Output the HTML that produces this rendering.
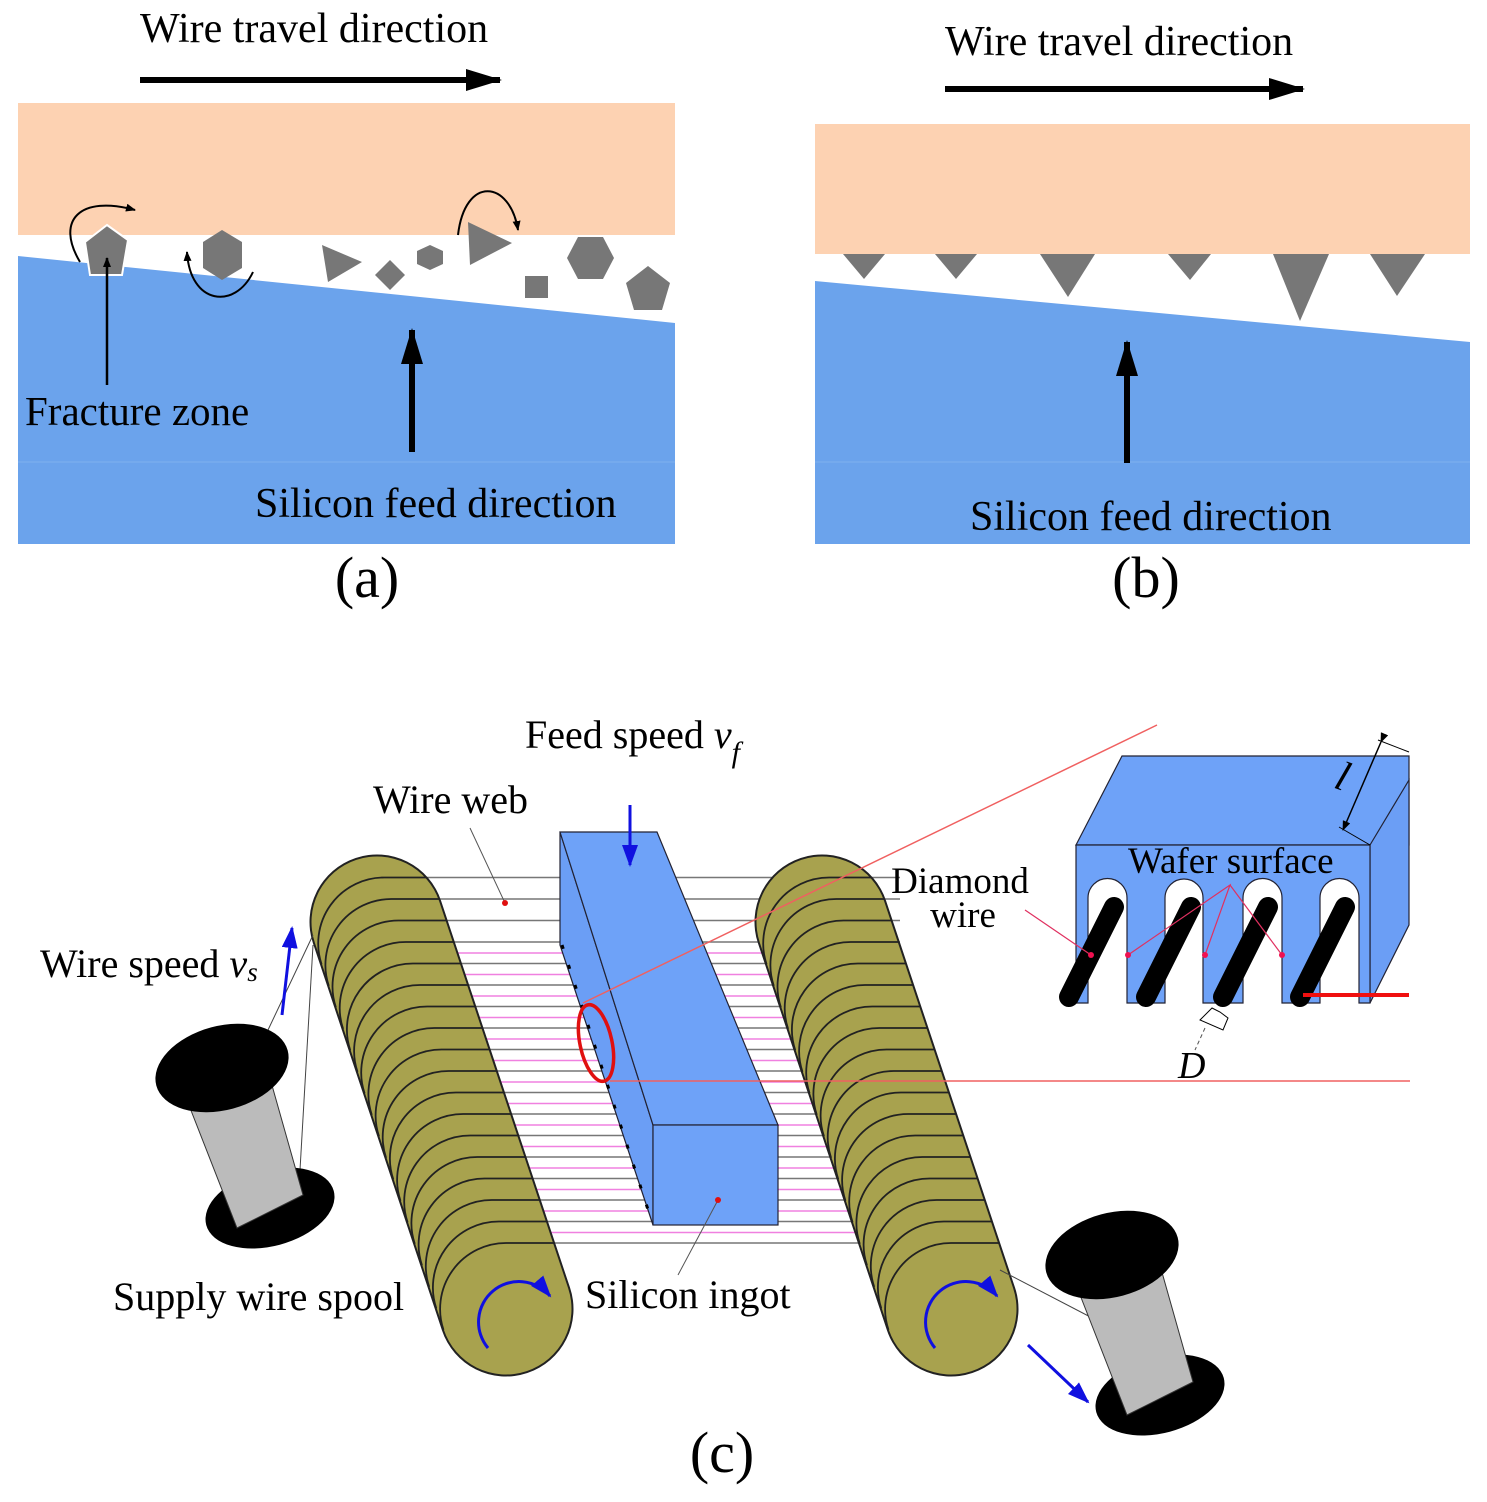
<!DOCTYPE html>
<html><head><meta charset="utf-8"><style>
html,body{margin:0;padding:0;background:#fff}
svg{display:block}
text{font-family:"Liberation Serif",serif;fill:#000}
</style></head><body>
<svg width="1487" height="1502" viewBox="0 0 1487 1502" xmlns="http://www.w3.org/2000/svg">
<defs>
<marker id="big" markerWidth="36" markerHeight="22" refX="34" refY="11" orient="auto" markerUnits="userSpaceOnUse"><path d="M0,0 L36,11 L0,22z" fill="#000"/></marker>
<marker id="bl" markerWidth="22" markerHeight="16" refX="20" refY="8" orient="auto" markerUnits="userSpaceOnUse"><path d="M0,0 L22,8 L0,16z" fill="#1010e0"/></marker>
<marker id="sm" markerWidth="10" markerHeight="8" refX="9" refY="4" orient="auto" markerUnits="userSpaceOnUse"><path d="M0,0 L10,4 L0,8z" fill="#000"/></marker>
<clipPath id="cl"><circle cx="377" cy="922" r="66"/><circle cx="506" cy="1309" r="66"/><polygon points="439.6,901.1 568.6,1288.1 443.4,1329.9 314.4,942.9"/></clipPath>
<clipPath id="cr"><circle cx="822" cy="922" r="66"/><circle cx="951" cy="1309" r="66"/><polygon points="884.6,901.1 1013.6,1288.1 888.4,1329.9 759.4,942.9"/></clipPath>
</defs>

<!-- Panel (a) -->
<text x="140" y="42" font-size="42">Wire travel direction</text>
<line x1="140" y1="80" x2="500" y2="80" stroke="#000" stroke-width="6" marker-end="url(#big)"/>
<rect x="18" y="103" width="657" height="132" fill="#fdd2b2"/>
<polygon points="18,256 675,323 675,544 18,544" fill="#6ba3ec"/>
<line x1="18" y1="462" x2="675" y2="462" stroke="#7fb0ee" stroke-width="1"/>
<g fill="#777">
<polygon points="107,225 128,240 122,275 90,275 85,242" stroke="#fff" stroke-width="2"/>
<polygon points="222,230 242,242 242,268 222,280 203,268 203,242"/>
<polygon points="322,245 362,262 328,282"/>
<polygon points="390,260 405,275 390,290 375,275"/>
<polygon points="430,245 443,251 443,264 430,270 417,264 417,251"/>
<polygon points="468,222 512,243 470,265"/>
<rect x="525" y="276" width="23" height="22"/>
<polygon points="578,237 603,237 614,258 603,279 578,279 567,258"/>
<polygon points="648,266 670,283 662,310 634,310 626,283"/>
</g>
<path d="M80,262 C55,220 80,195 135,210" fill="none" stroke="#000" stroke-width="2" marker-end="url(#sm)"/>
<path d="M253,272 C235,310 190,305 187,252" fill="none" stroke="#000" stroke-width="2" marker-end="url(#sm)"/>
<path d="M458,235 C465,175 510,180 518,230" fill="none" stroke="#000" stroke-width="2" marker-end="url(#sm)"/>
<line x1="107" y1="385" x2="107" y2="258" stroke="#000" stroke-width="2.5" marker-end="url(#sm)"/>
<text x="25" y="425" font-size="41">Fracture zone</text>
<line x1="412" y1="452" x2="412" y2="330" stroke="#000" stroke-width="6" marker-end="url(#big)"/>
<text x="255" y="517" font-size="42">Silicon feed direction</text>
<text x="367" y="597" font-size="58" text-anchor="middle">(a)</text>

<!-- Panel (b) -->
<text x="945" y="55" font-size="42">Wire travel direction</text>
<line x1="945" y1="89" x2="1303" y2="89" stroke="#000" stroke-width="6" marker-end="url(#big)"/>
<rect x="815" y="124" width="655" height="130" fill="#fdd2b2"/>
<polygon points="815,281 1470,342 1470,544 815,544" fill="#6ba3ec"/>
<line x1="815" y1="462" x2="1470" y2="462" stroke="#7fb0ee" stroke-width="1"/>
<g fill="#777">
<polygon points="843,254 885,254 864,279"/>
<polygon points="935,254 977,254 956,279"/>
<polygon points="1040,254 1095,254 1068,297"/>
<polygon points="1168,254 1211,254 1190,280"/>
<polygon points="1273,254 1329,254 1300,321"/>
<polygon points="1370,254 1425,254 1397,296"/>
</g>
<line x1="1127" y1="463" x2="1127" y2="342" stroke="#000" stroke-width="6" marker-end="url(#big)"/>
<text x="970" y="530" font-size="42">Silicon feed direction</text>
<text x="1146" y="597" font-size="58" text-anchor="middle">(b)</text>

<!-- Panel (c) -->
<!-- middle wires -->
<g stroke-width="1.6">
<g stroke="#777" id="gw">
<line x1="420" y1="877.5" x2="900" y2="877.5"/><line x1="420" y1="899" x2="900" y2="899"/><line x1="420" y1="920.5" x2="900" y2="920.5"/><line x1="420" y1="942" x2="900" y2="942"/><line x1="420" y1="963.5" x2="900" y2="963.5"/><line x1="420" y1="985" x2="900" y2="985"/><line x1="420" y1="1006.5" x2="900" y2="1006.5"/><line x1="420" y1="1028" x2="900" y2="1028"/><line x1="420" y1="1049.5" x2="900" y2="1049.5"/><line x1="420" y1="1071" x2="900" y2="1071"/><line x1="420" y1="1092.5" x2="900" y2="1092.5"/><line x1="420" y1="1114" x2="900" y2="1114"/><line x1="420" y1="1135.5" x2="900" y2="1135.5"/><line x1="420" y1="1157" x2="900" y2="1157"/><line x1="420" y1="1178.5" x2="900" y2="1178.5"/><line x1="420" y1="1200" x2="900" y2="1200"/><line x1="420" y1="1221.5" x2="900" y2="1221.5"/><line x1="420" y1="1243" x2="900" y2="1243"/>
</g>
<g stroke="#f080e0">
<line x1="440" y1="953" x2="900" y2="953"/><line x1="440" y1="974.5" x2="900" y2="974.5"/><line x1="440" y1="996" x2="900" y2="996"/><line x1="440" y1="1017.5" x2="900" y2="1017.5"/><line x1="440" y1="1039" x2="900" y2="1039"/><line x1="440" y1="1060.5" x2="900" y2="1060.5"/><line x1="440" y1="1082" x2="900" y2="1082"/><line x1="440" y1="1103.5" x2="900" y2="1103.5"/><line x1="440" y1="1125" x2="900" y2="1125"/><line x1="440" y1="1146.5" x2="900" y2="1146.5"/><line x1="440" y1="1168" x2="900" y2="1168"/><line x1="440" y1="1189.5" x2="900" y2="1189.5"/><line x1="440" y1="1211" x2="900" y2="1211"/><line x1="440" y1="1232.5" x2="900" y2="1232.5"/>
</g>
</g>
<!-- left roller -->
<line x1="377" y1="922" x2="506" y2="1309" stroke="#222" stroke-width="135" stroke-linecap="round"/>
<line x1="377" y1="922" x2="506" y2="1309" stroke="#a8a24e" stroke-width="131" stroke-linecap="round"/>
<g clip-path="url(#cl)" fill="none" stroke="#222" stroke-width="1.8">
<path d="M321.6,964.4 A66,66 0 0 1 384.2,877.5 H600"/>
<path d="M328.8,985.9 A66,66 0 0 1 391.3,899 H600"/>
<path d="M335.9,1007.4 A66,66 0 0 1 398.5,920.5 H600"/>
<path d="M343.1,1028.9 A66,66 0 0 1 405.7,942 H600"/>
<path d="M350.3,1050.4 A66,66 0 0 1 412.9,963.5 H600"/>
<path d="M357.5,1071.9 A66,66 0 0 1 420,985 H600"/>
<path d="M364.6,1093.4 A66,66 0 0 1 427.2,1006.5 H600"/>
<path d="M371.8,1114.9 A66,66 0 0 1 434.4,1028 H600"/>
<path d="M379,1136.4 A66,66 0 0 1 441.5,1049.5 H600"/>
<path d="M386.1,1157.9 A66,66 0 0 1 448.7,1071 H600"/>
<path d="M393.3,1179.4 A66,66 0 0 1 455.9,1092.5 H600"/>
<path d="M400.5,1200.9 A66,66 0 0 1 463.1,1114 H600"/>
<path d="M407.6,1222.4 A66,66 0 0 1 470.2,1135.5 H600"/>
<path d="M414.8,1243.9 A66,66 0 0 1 477.4,1157 H600"/>
<path d="M422,1265.4 A66,66 0 0 1 484.6,1178.5 H600"/>
<path d="M429.2,1286.9 A66,66 0 0 1 491.7,1200 H600"/>
<path d="M436.3,1308.4 A66,66 0 0 1 498.9,1221.5 H600"/>
<path d="M443.5,1329.9 A66,66 0 0 1 506,1243 H600"/>
</g>
<!-- right roller -->
<line x1="822" y1="922" x2="951" y2="1309" stroke="#222" stroke-width="135" stroke-linecap="round"/>
<line x1="822" y1="922" x2="951" y2="1309" stroke="#a8a24e" stroke-width="131" stroke-linecap="round"/>
<g clip-path="url(#cr)" fill="none" stroke="#222" stroke-width="1.8">
<path d="M766.6,964.4 A66,66 0 0 1 829.2,877.5 H1050"/>
<path d="M773.8,985.9 A66,66 0 0 1 836.3,899 H1050"/>
<path d="M780.9,1007.4 A66,66 0 0 1 843.5,920.5 H1050"/>
<path d="M788.1,1028.9 A66,66 0 0 1 850.7,942 H1050"/>
<path d="M795.3,1050.4 A66,66 0 0 1 857.9,963.5 H1050"/>
<path d="M802.5,1071.9 A66,66 0 0 1 865,985 H1050"/>
<path d="M809.6,1093.4 A66,66 0 0 1 872.2,1006.5 H1050"/>
<path d="M816.8,1114.9 A66,66 0 0 1 879.4,1028 H1050"/>
<path d="M824,1136.4 A66,66 0 0 1 886.5,1049.5 H1050"/>
<path d="M831.1,1157.9 A66,66 0 0 1 893.7,1071 H1050"/>
<path d="M838.3,1179.4 A66,66 0 0 1 900.9,1092.5 H1050"/>
<path d="M845.5,1200.9 A66,66 0 0 1 908.1,1114 H1050"/>
<path d="M852.6,1222.4 A66,66 0 0 1 915.2,1135.5 H1050"/>
<path d="M859.8,1243.9 A66,66 0 0 1 922.4,1157 H1050"/>
<path d="M867,1265.4 A66,66 0 0 1 929.6,1178.5 H1050"/>
<path d="M874.2,1286.9 A66,66 0 0 1 936.7,1200 H1050"/>
<path d="M881.3,1308.4 A66,66 0 0 1 943.9,1221.5 H1050"/>
<path d="M888.5,1329.9 A66,66 0 0 1 951,1243 H1050"/>
</g>
<!-- rotation arrows -->
<path d="M488,1348 A38,38 0 1 1 550,1296" fill="none" stroke="#1010e0" stroke-width="3" marker-end="url(#bl)"/>
<path d="M935,1348 A38,38 0 1 1 997,1296" fill="none" stroke="#1010e0" stroke-width="3" marker-end="url(#bl)"/>
<!-- ingot -->
<polygon points="560,832 560,945 653,1225 653,1125" fill="#6b9ef5" stroke="#223" stroke-width="1.2"/>
<polygon points="560,832 657,832 778,1125 653,1125" fill="#6ea2f8" stroke="#223" stroke-width="1.2"/>
<rect x="653" y="1125" width="125" height="100" fill="#6ea2f8" stroke="#223" stroke-width="1.2"/>
<line x1="562" y1="945" x2="652" y2="1222" stroke="#000" stroke-width="3" stroke-dasharray="4,17"/>
<line x1="630" y1="805" x2="630" y2="865" stroke="#1010e0" stroke-width="3" marker-end="url(#bl)"/>
<!-- red zoom lines -->
<line x1="583" y1="1003" x2="1157" y2="725" stroke="#f06060" stroke-width="1.5"/>
<line x1="610" y1="1081" x2="1410" y2="1081" stroke="#f06060" stroke-width="1.5"/>
<ellipse cx="596" cy="1043" rx="16" ry="39" transform="rotate(-12 596 1043)" fill="none" stroke="#e01010" stroke-width="3.5"/>
<!-- leaders -->
<line x1="470" y1="828" x2="505" y2="903" stroke="#555" stroke-width="1"/><circle cx="505" cy="903" r="3" fill="#e01010"/>
<line x1="678" y1="1275" x2="718" y2="1200" stroke="#555" stroke-width="1"/><circle cx="718" cy="1200" r="3" fill="#e01010"/>
<!-- spools -->
<line x1="313" y1="935" x2="268" y2="1030" stroke="#444" stroke-width="1"/>
<line x1="313" y1="945" x2="300" y2="1170" stroke="#444" stroke-width="1"/>
<ellipse cx="270" cy="1208" rx="66" ry="38" transform="rotate(-15 270 1208)" fill="#000"/>
<polygon points="183,1090 262,1050 303,1195 237,1228" fill="#bbb" stroke="#333" stroke-width="1"/>
<ellipse cx="222" cy="1068" rx="68" ry="42" transform="rotate(-15 222 1068)" fill="#000"/>
<line x1="282" y1="1015" x2="292" y2="928" stroke="#1010e0" stroke-width="3" marker-end="url(#bl)"/>
<line x1="1000" y1="1270" x2="1100" y2="1322" stroke="#444" stroke-width="1"/>
<ellipse cx="1160" cy="1395" rx="66" ry="38" transform="rotate(-15 1160 1395)" fill="#000"/>
<polygon points="1073,1277 1152,1237 1193,1382 1127,1415" fill="#bbb" stroke="#333" stroke-width="1"/>
<ellipse cx="1112" cy="1255" rx="68" ry="42" transform="rotate(-15 1112 1255)" fill="#000"/>
<line x1="1028" y1="1345" x2="1088" y2="1402" stroke="#1010e0" stroke-width="3" marker-end="url(#bl)"/>
<!-- inset -->
<polygon points="1076,845 1122,756 1409,756 1409,845" fill="#6ea2f8" stroke="#223" stroke-width="1.2"/>
<polygon points="1370,845 1409,780 1409,925 1370,1003" fill="#6b9ef5" stroke="#223" stroke-width="1.2"/>
<path d="M1076,845 H1370 V1003 H1359 V898 A19,19 0 0 0 1320,898 V1003 H1282 V898 A19,19 0 0 0 1243,898 V1003 H1203 V898 A19,19 0 0 0 1165,898 V1003 H1127 V898 A19,19 0 0 0 1088,898 V1003 H1076 Z" fill="#6ea2f8" stroke="#223" stroke-width="1.2"/>
<g stroke="#000" stroke-width="20" stroke-linecap="round">
<line x1="1069" y1="997" x2="1114" y2="907"/>
<line x1="1146" y1="997" x2="1191" y2="907"/>
<line x1="1223" y1="997" x2="1268" y2="907"/>
<line x1="1300" y1="997" x2="1345" y2="907"/>
</g>
<line x1="1303" y1="995" x2="1409" y2="995" stroke="#f01010" stroke-width="4"/>
<g stroke="#e03060" stroke-width="1.2" fill="none">
<polyline points="1025,910 1091,955"/>
<polyline points="1128,955 1230,885 1205,955"/>
<polyline points="1230,885 1282,955"/>
</g>
<g fill="#f01050"><circle cx="1091" cy="955" r="3"/><circle cx="1128" cy="955" r="3"/><circle cx="1205" cy="955" r="3"/><circle cx="1282" cy="955" r="3"/></g>
<line x1="1381" y1="742" x2="1343" y2="830" stroke="#000" stroke-width="1.5" marker-start="url(#sm)" marker-end="url(#sm)"/>
<polyline points="1378,740 1409,752" stroke="#000" fill="none" stroke-width="1"/>
<polyline points="1339,827 1370,845" stroke="#000" fill="none" stroke-width="1"/>
<polygon points="1212,1008 1220,1012 1228,1018 1223,1030 1200,1020" fill="#fff" stroke="#000" stroke-width="1"/>
<line x1="1205" y1="1028" x2="1195" y2="1050" stroke="#555" stroke-dasharray="4,3" stroke-width="1"/>
<text x="1178" y="1078" font-size="38" font-style="italic">D</text>
<text x="1332" y="790" font-size="42" font-style="italic" transform="rotate(20 1340 790)">l</text>
<text x="1128" y="873" font-size="37">Wafer surface</text>
<text x="960" y="893" font-size="37" text-anchor="middle">Diamond</text>
<text x="963" y="927" font-size="37" text-anchor="middle">wire</text>
<!-- labels -->
<text x="525" y="748" font-size="40">Feed speed <tspan font-style="italic">v</tspan><tspan font-style="italic" font-size="30" dy="14">f</tspan></text>
<text x="373" y="813" font-size="40">Wire web</text>
<text x="40" y="977" font-size="40">Wire speed <tspan font-style="italic">v</tspan><tspan font-style="italic" font-size="27" dy="4">s</tspan></text>
<text x="113" y="1310" font-size="40">Supply  wire spool</text>
<text x="585" y="1308" font-size="40">Silicon ingot</text>
<text x="722" y="1472" font-size="58" text-anchor="middle">(c)</text>
</svg>
</body></html>
